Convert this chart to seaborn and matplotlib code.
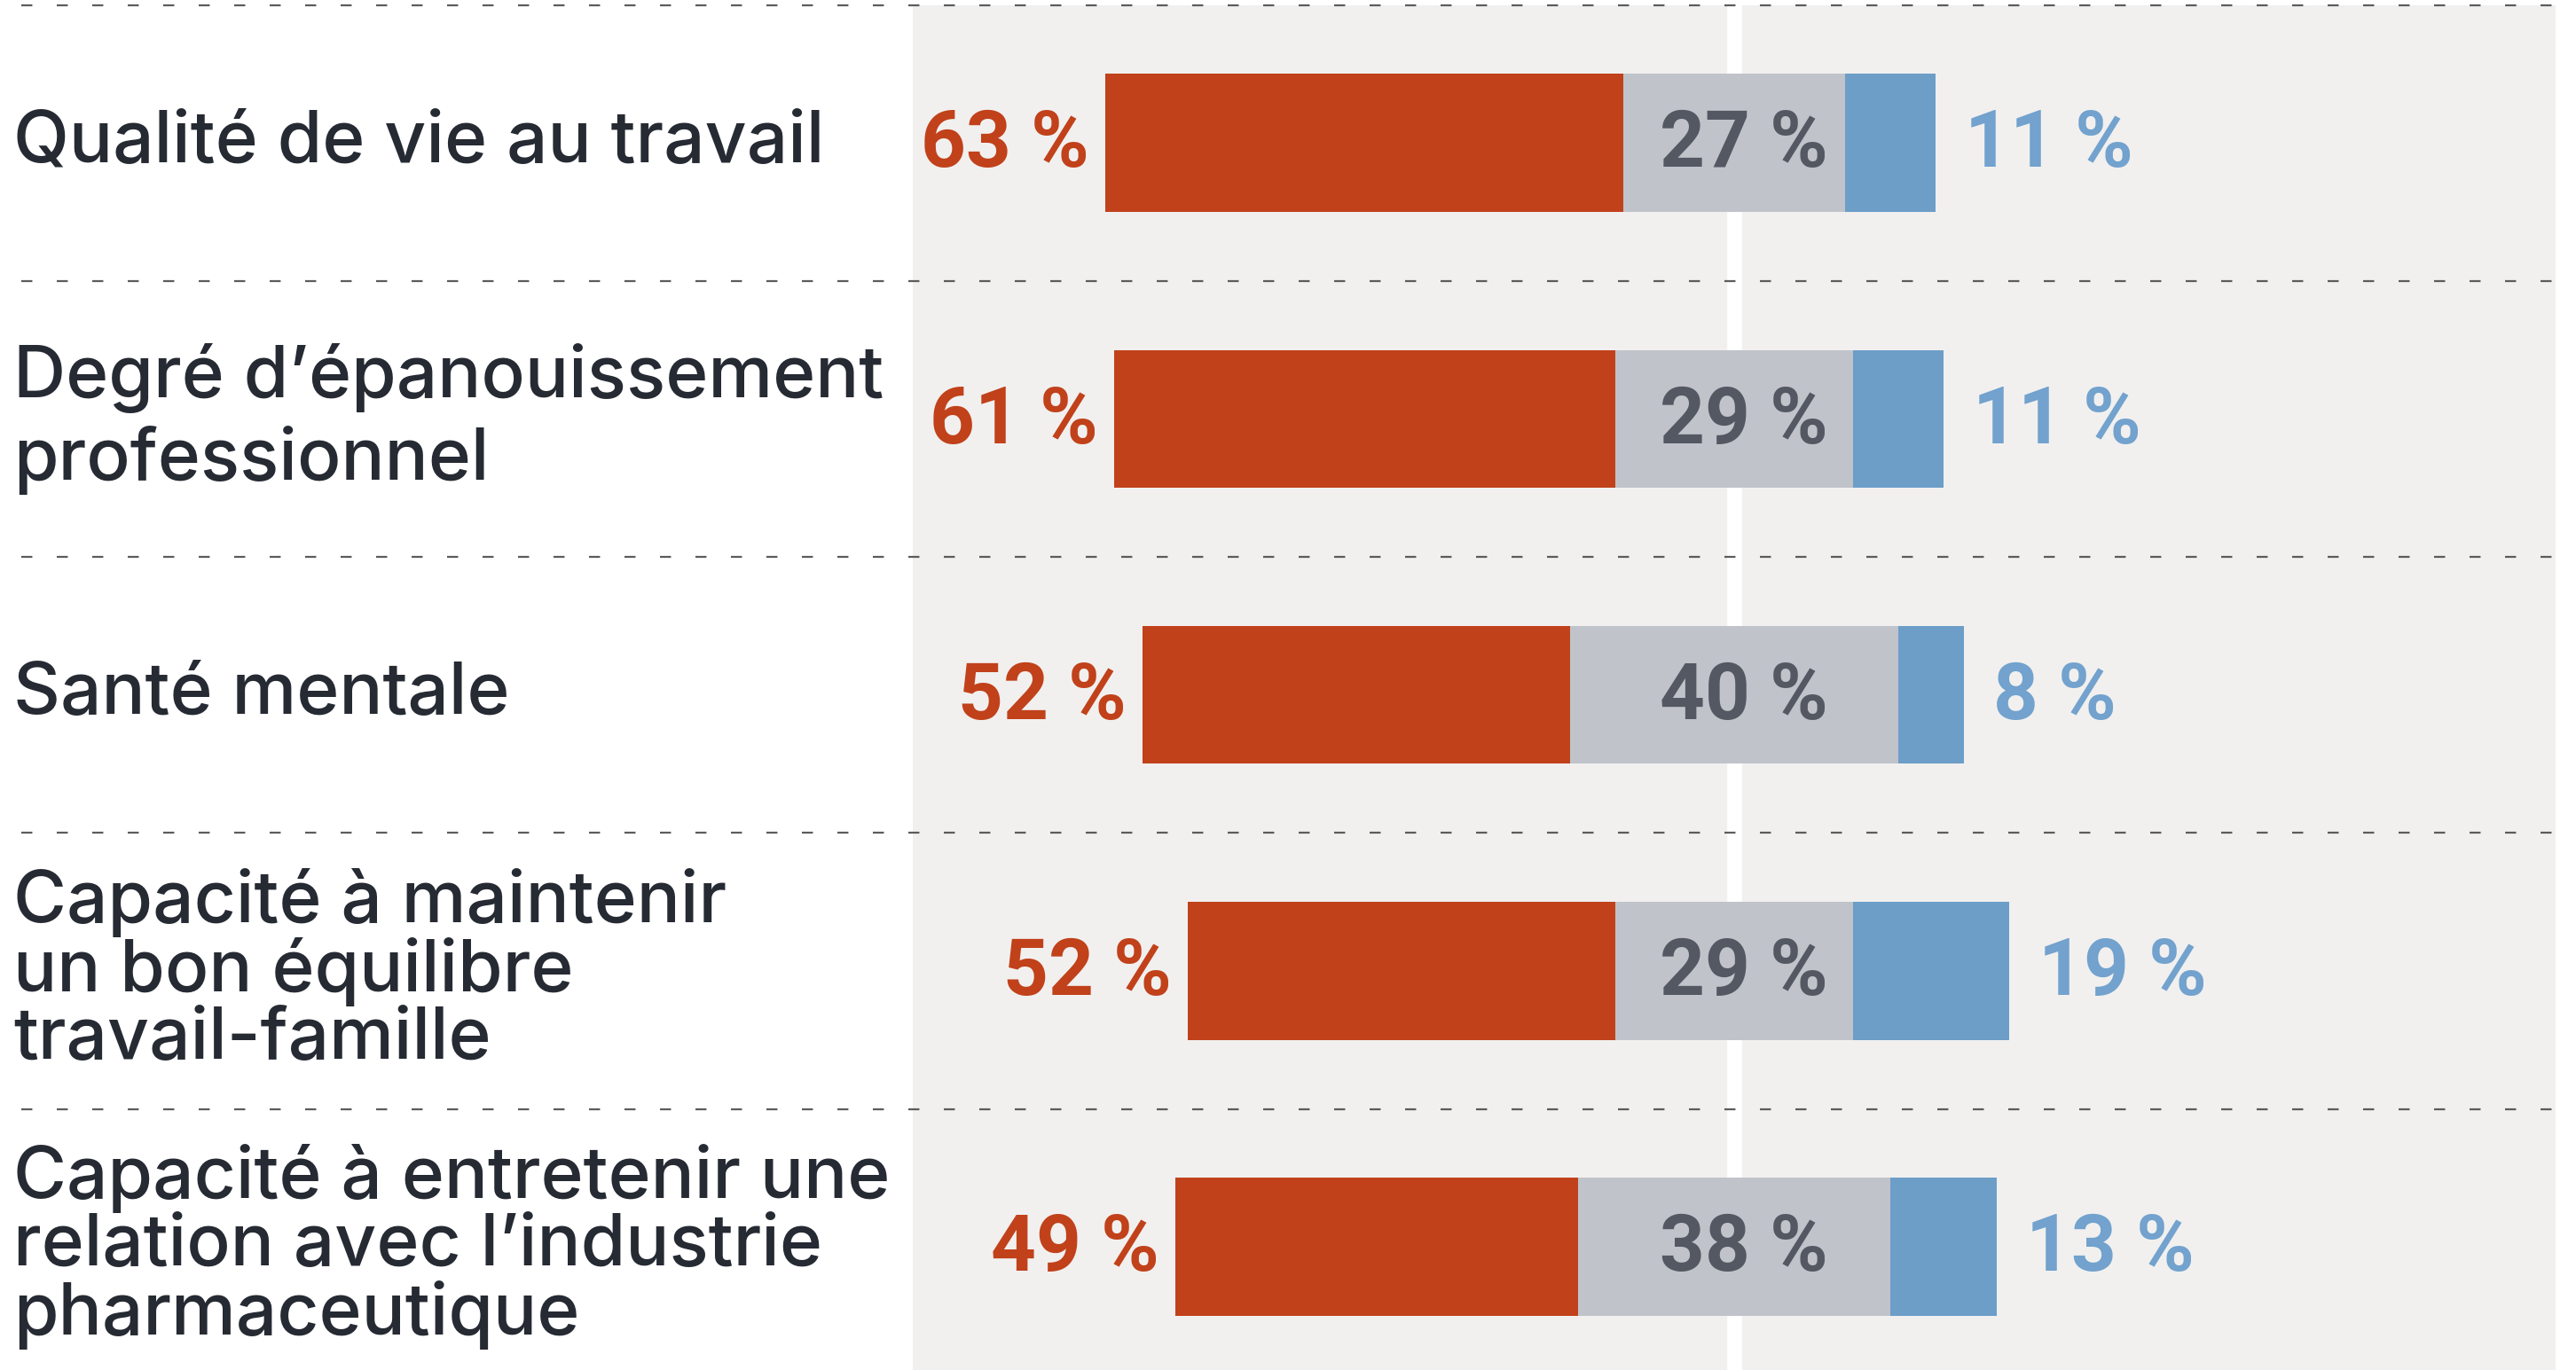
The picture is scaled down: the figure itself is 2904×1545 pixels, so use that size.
import numpy as np
import pandas as pd
import matplotlib
matplotlib.use("Agg")
import matplotlib.pyplot as plt
import matplotlib.transforms as mtransforms
import seaborn as sns

categories = [
    "Qualité de vie au travail",
    "Degré d’épanouissement\nprofessionnel",
    "Santé mentale",
    "Capacité à maintenir\nun bon équilibre\ntravail-famille",
    "Capacité à entretenir une\nrelation avec l’industrie\npharmaceutique",
]
negatif = [63, 61, 52, 52, 49]
neutre = [27, 29, 40, 29, 38]
positif = [11, 11, 8, 19, 13]

RED = "#c1411a"
GREY = "#c0c3ca"
BLUE = "#6c9ec8"
PANEL = "#f1f0ef"
TXT = "#262a33"

df = pd.DataFrame({"cat": categories, "neg": negatif, "neu": neutre, "pos": positif})
df["left_neg"] = -df["neu"] / 2 - df["neg"]
df["left_neu"] = -df["neu"] / 2
df["left_pos"] = df["neu"] / 2

sns.set_theme(style="white")
plt.rcParams["font.family"] = ["Inter", "DejaVu Sans"]

fig = plt.figure(figsize=(14.52, 7.725), dpi=200)
ax = fig.add_axes([555.5 / 1568, 0, 1000 / 1568, 1 - 3 / 834])
ax.set_facecolor(PANEL)

# diverging stacked bars: grey centred on 0
for col, left, color in [("neg", "left_neg", RED), ("neu", "left_neu", GREY), ("pos", "left_pos", BLUE)]:
    sns.barplot(data=df, x=col, y="cat", left=df[left].to_numpy(), orient="y",
                color=color, saturation=1, width=0.5, linewidth=0, errorbar=None,
                ax=ax, zorder=2)

ax.axvline(0, color="white", lw=6, zorder=1)
ax.set_xlim(-100, 100)
ax.set_ylim(4.446, -0.5)
ax.set_xlabel("")
ax.set_ylabel("")
ax.set_xticks([])
ax.set_yticks([])
sns.despine(ax=ax, left=True, bottom=True)

trans = mtransforms.blended_transform_factory(fig.transFigure, ax.transData)
for yv in np.arange(len(categories)) - 0.5:
    ax.plot([0.0084, 0.9925], [yv, yv], transform=trans, color="#5c5c5c", lw=0.8,
            ls=(0, (5.6, 12.4)), clip_on=False, zorder=3)

for i, row in df.iterrows():
    n_lines = row["cat"].count("\n") + 1
    ax.text(0.0053, i, row["cat"], transform=trans, ha="left", va="center",
            fontsize=29.5, color=TXT, fontweight="medium",
            linespacing=1.23 if n_lines == 2 else 1.0)
    num = dict(textcoords="offset points", va="center_baseline", fontsize=32,
               fontweight="bold", family=["Roboto", "DejaVu Sans"])
    ax.annotate(f"{row['neg']} %", xy=(row["left_neg"], i), xytext=(-6.5, 2.3),
                ha="right", color=RED, **num)
    ax.annotate(f"{row['neu']} %", xy=(0, i), xytext=(4, 2.3),
                ha="center", color="#545862", **num)
    ax.annotate(f"{row['pos']} %", xy=(row["left_pos"] + row["pos"], i), xytext=(12, 2.3),
                ha="left", color="#72a2cd", **num)

fig.savefig("out.png", dpi=200, facecolor="white")
